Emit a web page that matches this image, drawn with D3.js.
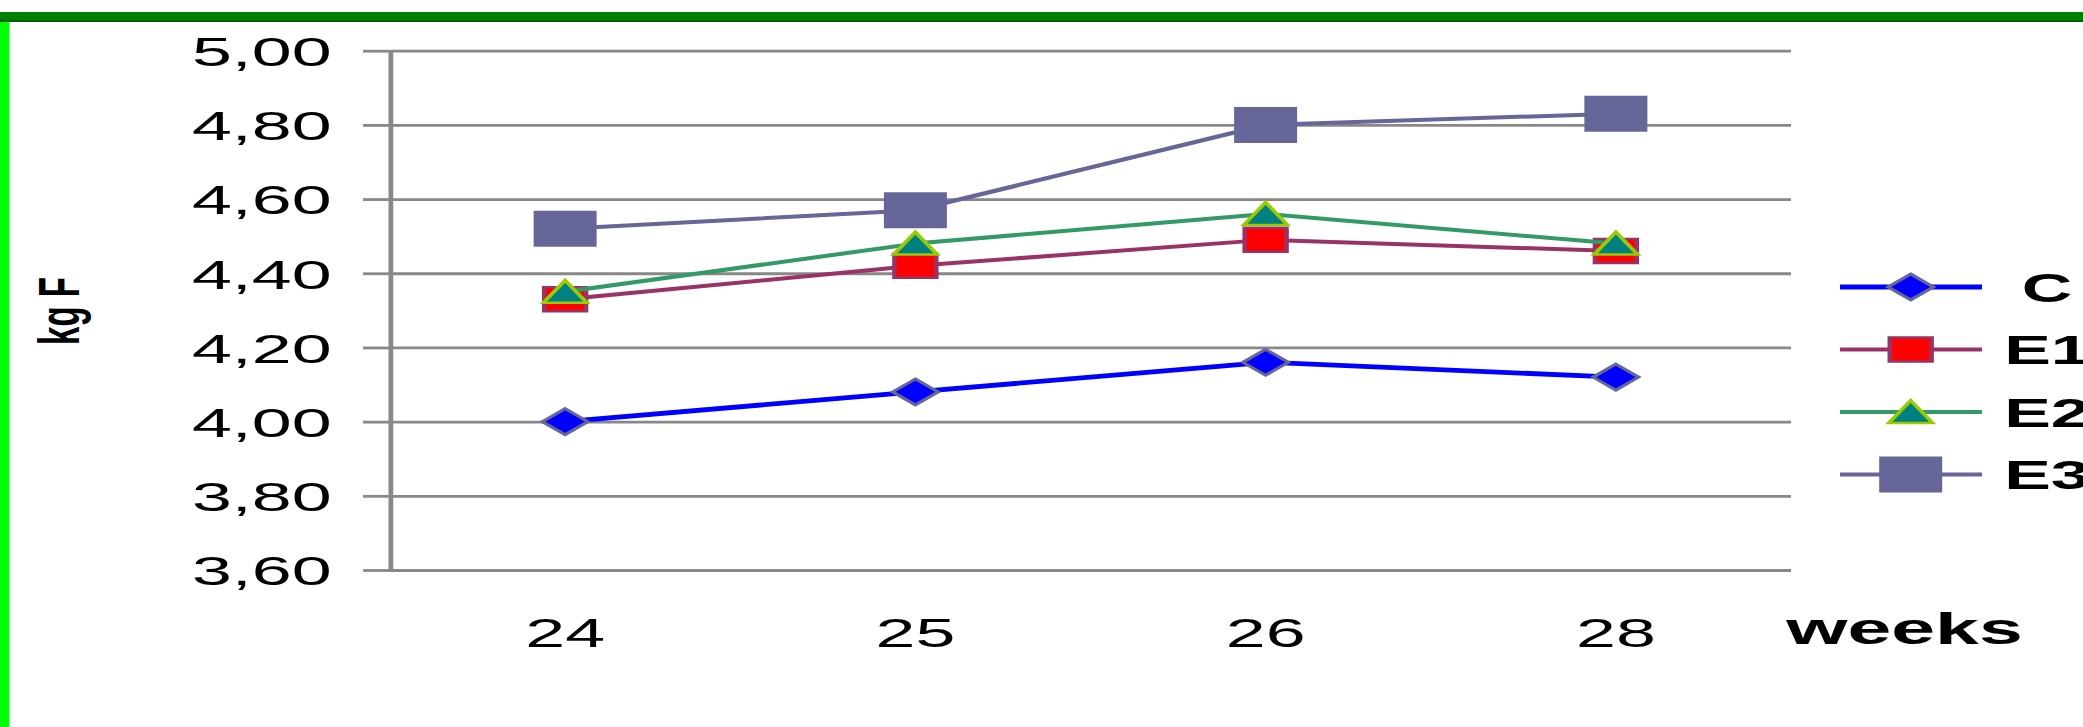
<!DOCTYPE html>
<html>
<head>
<meta charset="utf-8">
<script src="https://cdn.jsdelivr.net/npm/d3@7"></script>
<style>
  body { margin: 0; background: #fff; }
  text { font-family: "Liberation Sans", Arial, sans-serif; }
</style>
</head>
<body>
<script>
// chart data
var weeks = ["24", "25", "26", "28"];
var seriesNames = ["C", "E1", "E2", "E3"];
var valuesC  = [4.00, 4.08, 4.16, 4.12];
var valuesE1 = [4.33, 4.42, 4.49, 4.46];
var valuesE2 = [4.35, 4.48, 4.56, 4.48];
var valuesE3 = [4.52, 4.57, 4.80, 4.83];
var yTicks = [3.6, 3.8, 4.0, 4.2, 4.4, 4.6, 4.8, 5.0];

const SvgWidth = 2083, SvgHeight = 727;
// the original picture is stretched sideways, so draw in a narrow frame and scale x
const SX = 1.75;

var series = [
  {name: seriesNames[0], values: valuesC,  line: "#0000ff", lw: 4.8, shape: "diamond",  fill: "#0000ff", stroke: "#666699"},
  {name: seriesNames[1], values: valuesE1, line: "#993366", lw: 4,   shape: "square",   fill: "#ff0000", stroke: "#993366"},
  {name: seriesNames[2], values: valuesE2, line: "#339966", lw: 4,   shape: "triangle", fill: "#008080", stroke: "#99cc00"},
  {name: seriesNames[3], values: valuesE3, line: "#666699", lw: 4,   shape: "bigsquare",fill: "#666699", stroke: "none"}
];

function markerPath(shape){
  if(shape == "diamond") return "M0,-13L13,0L0,13L-13,0Z";
  if(shape == "square") return "M-12,-12H12V12H-12Z";
  if(shape == "triangle") return "M0,-11.5L12.5,11L-12.5,11Z";
  return "M-18,-18H18V18H-18Z";
}

var svg = d3.select('body')
  .append('svg')
  .attr('width', SvgWidth)
  .attr('height', SvgHeight)
  .style('background-color', 'white');

// frame bars
svg.append('rect').attr('x', 0).attr('y', 12).attr('width', SvgWidth).attr('height', 8).attr('fill', '#008000');
svg.append('rect').attr('x', 0).attr('y', 20).attr('width', SvgWidth).attr('height', 2).attr('fill', '#005c00');
svg.append('rect').attr('x', 0).attr('y', 22).attr('width', 9.5).attr('height', SvgHeight - 22).attr('fill', '#00ff00');

var g = svg.append('g').attr('transform', 'scale(' + SX + ',1)');

var left = 390 / SX, right = 1791 / SX;
var x = d3.scaleBand().domain(weeks).range([left, right]);
var y = d3.scaleLinear().domain([3.6, 5.0]).range([570, 50.7]);

var comma = d3.formatLocale({decimal: ",", thousands: ".", grouping: [3], currency: ["", ""]}).format(".2f");

// gridlines
var grid = g.append('g')
  .attr('transform', 'translate(' + left + ',0)')
  .call(d3.axisLeft(y).tickValues(yTicks).tickSize(-(right - left)).tickFormat(''));
grid.select('.domain').remove();
grid.selectAll('line').attr('stroke', '#888888').attr('stroke-width', 2.8);

// y axis with ticks and labels
var yAxis = g.append('g')
  .attr('transform', 'translate(' + left + ',0)')
  .call(d3.axisLeft(y).tickValues(yTicks).tickSizeInner(15.4).tickSizeOuter(0).tickPadding(18).tickFormat(comma));
yAxis.select('.domain').attr('stroke', '#888888').attr('stroke-width', 2.7);
yAxis.selectAll('line').attr('stroke', '#888888').attr('stroke-width', 2.8);
yAxis.selectAll('text')
  .attr('fill', '#000')
  .attr('dy', '0.36em')
  .style('font-size', '41px')
  .style('font-family', '"Liberation Sans", Arial, sans-serif');

// x axis labels
var xAxis = g.append('g')
  .attr('transform', 'translate(0,570)')
  .call(d3.axisBottom(x).tickSize(0).tickPadding(48));
xAxis.select('.domain').remove();
xAxis.selectAll('text')
  .attr('fill', '#000')
  .style('font-size', '41px')
  .style('font-family', '"Liberation Sans", Arial, sans-serif');

// axis titles
g.append('text')
  .attr('transform', 'translate(' + (79 / SX) + ',311) rotate(-90)')
  .attr('text-anchor', 'middle')
  .style('font-size', '33px')
  .style('font-weight', 'bold')
  .text('kg F');

g.append('text')
  .attr('x', 1904.5 / SX)
  .attr('y', 644)
  .attr('text-anchor', 'middle')
  .style('font-size', '45px')
  .style('font-weight', 'bold')
  .text('weeks');

// lines and markers
var line = d3.line()
  .x(function(d, i){ return x(weeks[i]) + x.bandwidth() / 2; })
  .y(function(d){ return y(d); });

series.forEach(function(s){
  g.append('path')
    .datum(s.values)
    .attr('fill', 'none')
    .attr('stroke', s.line)
    .attr('stroke-width', s.lw)
    .attr('stroke-linejoin', 'round')
    .attr('d', line);
  g.selectAll('.m-' + s.name)
    .data(s.values)
    .enter().append('path')
      .attr('class', 'm-' + s.name)
      .attr('transform', function(d, i){ return 'translate(' + (x(weeks[i]) + x.bandwidth() / 2) + ',' + y(d) + ')'; })
      .attr('d', markerPath(s.shape))
      .attr('fill', s.fill)
      .attr('stroke', s.stroke)
      .attr('stroke-width', 2.5)
      .attr('stroke-linejoin', 'miter');
});

// legend
var legendY = d3.scalePoint().domain(seriesNames).range([287, 474.5]);
var lx0 = 1840 / SX, lx1 = 1982 / SX, lxm = 1910.7 / SX;
var legend = g.selectAll('.legend')
  .data(series)
  .enter().append('g')
    .attr('class', 'legend')
    .attr('transform', function(d){ return 'translate(0,' + legendY(d.name) + ')'; });
legend.append('line')
  .attr('x1', lx0).attr('x2', lx1)
  .attr('stroke', function(d){ return d.line; })
  .attr('stroke-width', function(d){ return d.lw; });
legend.append('path')
  .attr('transform', 'translate(' + lxm + ',0)')
  .attr('d', function(d){ return markerPath(d.shape); })
  .attr('fill', function(d){ return d.fill; })
  .attr('stroke', function(d){ return d.stroke; })
  .attr('stroke-width', 2.5);
legend.append('text')
  .attr('x', 2047 / SX)
  .attr('y', 14.5)
  .attr('text-anchor', 'middle')
  .style('font-size', '40px')
  .style('font-weight', 'bold')
  .text(function(d){ return d.name; });
</script>
</body>
</html>
